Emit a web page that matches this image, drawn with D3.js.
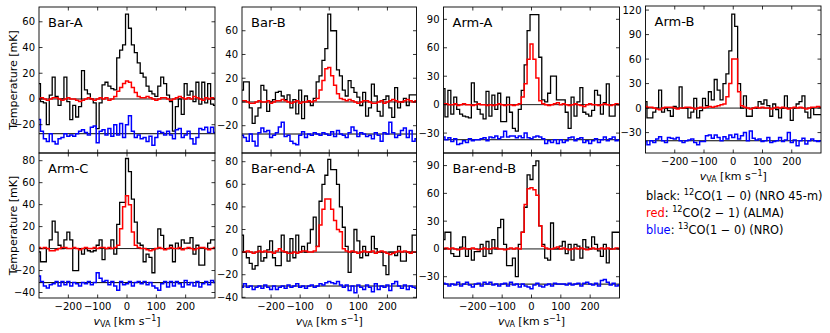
<!DOCTYPE html>
<html><head><meta charset="utf-8">
<script src="https://cdn.jsdelivr.net/npm/d3@7"></script>
<style>body{margin:0;background:#fff}svg{display:block}text{font-family:"DejaVu Sans",sans-serif;fill:#000}</style>
</head><body><svg id="c" width="830" height="333"></svg>
<script>
// channel centres (km/s)
const velocity = [-300,-290,-280,-270,-260,-250,-240,-230,-220,-210,-200,-190,-180,-170,-160,-150,-140,-130,-120,-110,-100,-90,-80,-70,-60,-50,-40,-30,-20,-10,0,10,20,30,40,50,60,70,80,90,100,110,120,130,140,150,160,170,180,190,200,210,220,230,240,250,260,270,280,290,300];
const panelNames = ["Bar-A","Bar-B","Arm-A","Arm-B","Arm-C","Bar-end-A","Bar-end-B"];

// black: 12CO(1-0) NRO 45-m [mK]
const barA_co10 = [12,-2,-3,-20,3,17,2,-5,0,17,-2,-16,-5,-14,-6,22,7,4,0,-3,-23,-3,11,13,10,8,7,32,38,42,66,55,42,36,28,20,17,10,6,4,2,10,17,12,3,-2,-25,-6,0,-12,12,3,6,-2,13,-4,13,-3,12,-4,-5];
const barB_co10 = [10,17,17,-5,-18,-12,-5,14,10,-8,0,2,8,9,5,2,6,-5,2,-10,10,-14,5,0,-3,3,17,22,35,45,74,60,60,27,22,10,5,18,12,8,4,-3,8,-12,-5,15,5,-8,-12,2,5,-5,-13,12,-5,0,3,-3,6,6,6];
const armA_co10 = [17,-13,15,-10,8,-5,-10,-12,-13,-14,23,3,-5,-10,-15,14,-12,10,-5,12,-18,-18,8,-8,-25,-28,-5,15,42,78,95,95,95,50,5,3,12,30,30,5,5,5,-8,-25,8,-12,3,18,-8,-10,-12,-6,15,10,-10,2,22,-12,-12,0,0];
const armB_co10 = [8,-12,-12,-5,0,22,-5,0,-3,-10,2,0,26,0,0,-12,-5,12,-12,-3,12,3,20,10,35,22,10,30,42,70,115,100,30,0,15,-10,-10,0,0,8,5,10,3,-10,5,-2,-12,0,15,0,-15,0,5,8,15,-5,-12,0,-8,-8,-8];
const armC_co10 = [-3,-12,-12,0,8,25,15,3,0,8,15,8,-20,-20,0,-5,0,-2,-3,-2,3,8,-10,0,0,8,-5,22,42,42,82,70,45,24,5,3,-12,-5,-8,-22,0,18,12,0,0,3,-12,5,0,8,5,5,10,-5,3,-15,-15,0,5,8,8];
const barEndA_co10 = [15,0,-5,-10,-15,-12,5,-8,-5,2,10,-5,-12,-12,15,0,-8,12,-5,15,0,5,0,8,20,31,5,45,60,68,82,73,73,60,40,22,5,-18,0,20,10,-5,5,-3,0,14,3,0,0,-12,-20,0,0,-3,5,-8,-8,0,0,15,15];
const barEndB_co10 = [10,18,18,-5,-8,-8,2,13,-8,0,-12,-3,-3,5,-8,8,-5,10,0,23,32,5,-18,-18,-10,-30,5,18,45,80,75,90,95,25,5,-10,-12,28,0,0,3,8,-5,5,-12,5,3,-10,10,2,0,13,5,-2,-8,5,-15,0,18,18,18];

// red: 12CO(2-1) ALMA [mK]
const barA_co21 = [0,1,0,-1,0,1,1,0,-1,0,1,0,0,-1,-2,-1,0,1,0,-1,0,1,0,1,-1,0,2,6,9,12,14,13,9,5,2,1,1,2,1,0,-1,0,1,1,0,-1,0,1,2,1,0,1,0,2,1,0,-1,1,0,1,0];
const barB_co21 = [1,1,0,-1,-1,0,1,0,0,1,-1,0,1,1,2,1,0,-1,0,1,-1,0,0,1,0,1,3,10,18,28,29,22,14,7,3,2,1,2,1,0,-1,0,1,1,0,-1,-1,0,1,-1,0,1,2,1,0,0,1,2,1,0,1];
const armA_co21 = [1,1,0,0,1,-1,0,1,0,0,-1,0,1,0,0,-1,0,-1,0,1,0,-1,0,0,-1,0,1,8,22,48,64,48,28,4,1,0,-1,0,1,2,0,1,0,-1,0,1,0,-1,-2,0,1,0,0,-1,0,1,0,-1,0,1,0];
const armB_co21 = [2,1,1,0,-1,-2,0,1,1,1,0,-1,0,0,1,1,0,-1,0,1,0,1,2,1,2,3,4,5,14,30,60,60,20,3,1,0,-1,0,1,0,1,0,0,-1,0,1,0,1,0,-1,0,1,0,1,0,-1,0,1,1,2,1];
const armC_co21 = [1,0,1,0,-2,-2,-1,0,1,1,0,0,1,0,-1,0,1,0,0,1,0,1,1,0,1,0,1,3,18,38,48,40,15,3,1,0,0,-1,-2,-1,0,1,0,-1,0,1,0,0,1,-1,0,1,0,-1,0,1,1,0,-1,0,1];
const barEndA_co21 = [0,0,1,0,-1,0,1,0,1,0,0,-1,1,3,1,0,-1,-1,0,-1,0,1,1,0,0,1,5,24,38,47,47,38,28,20,18,3,1,0,1,0,-1,0,1,0,0,1,-1,0,1,0,-1,-2,-1,0,1,0,1,0,-1,0,0];
const barEndB_co21 = [0,1,0,1,0,-1,0,1,0,0,1,0,-1,0,1,0,0,1,1,0,0,-1,0,1,0,1,0,18,48,65,66,64,58,25,3,1,0,0,1,2,0,1,0,-1,0,1,0,1,0,-1,0,1,0,0,1,0,1,0,0,1,0];

// blue: 13CO(1-0) NRO, plotted with offset [mK]
const barA_13co = [-16,-25,-31,-33,-27,-33,-35,-31,-30,-27,-29,-28,-29,-27,-25,-24,-26,-28,-22,-21,-34,-25,-24,-28,-23,-29,-20,-28,-19,-30,-20,-13,-25,-30,-28,-31,-30,-33,-29,-36,-30,-25,-26,-28,-25,-28,-31,-24,-23,-30,-28,-25,-31,-35,-30,-23,-24,-22,-26,-22,-26];
const barB_13co = [-28,-30,-33,-27,-33,-37,-26,-22,-25,-24,-30,-28,-26,-21,-17,-29,-28,-33,-35,-36,-28,-25,-30,-27,-28,-26,-27,-28,-26,-27,-28,-25,-29,-24,-27,-28,-30,-26,-21,-24,-29,-26,-27,-29,-28,-31,-26,-28,-33,-26,-27,-17,-26,-30,-28,-24,-22,-30,-24,-33,-31];
const armA_13co = [-34,-37,-35,-39,-36,-42,-41,-38,-40,-36,-38,-37,-37,-36,-35,-38,-34,-35,-33,-36,-34,-28,-34,-33,-33,-35,-33,-35,-30,-35,-36,-34,-33,-34,-36,-41,-38,-40,-37,-41,-37,-40,-38,-35,-34,-38,-36,-35,-40,-38,-41,-38,-36,-40,-37,-34,-38,-36,-34,-38,-37];
const armB_13co = [-41,-45,-40,-42,-38,-35,-40,-42,-36,-37,-38,-36,-40,-42,-40,-39,-38,-42,-45,-41,-41,-34,-33,-37,-33,-36,-40,-35,-38,-33,-36,-32,-38,-34,-30,-40,-28,-37,-39,-38,-41,-40,-36,-42,-41,-40,-36,-41,-39,-30,-42,-39,-46,-40,-37,-44,-40,-38,-40,-41,-40];
const armC_13co = [-25,-30,-34,-36,-33,-32,-30,-34,-30,-33,-30,-34,-31,-32,-34,-31,-32,-30,-33,-31,-22,-27,-30,-29,-33,-30,-34,-38,-30,-33,-32,-30,-34,-31,-30,-32,-30,-33,-31,-34,-36,-38,-32,-30,-35,-30,-34,-30,-32,-35,-29,-33,-31,-34,-30,-35,-32,-30,-33,-29,-31];
const barEndA_13co = [-31,-28,-31,-30,-33,-31,-30,-32,-29,-31,-33,-30,-33,-31,-30,-32,-29,-31,-30,-28,-31,-30,-32,-30,-29,-31,-30,-28,-29,-27,-26,-27,-28,-26,-29,-31,-29,-34,-30,-36,-29,-31,-33,-29,-31,-35,-28,-33,-30,-31,-29,-34,-28,-26,-30,-32,-29,-33,-30,-31,-32];
const barEndB_13co = [-37,-38,-40,-38,-39,-36,-40,-38,-36,-39,-41,-38,-37,-40,-36,-38,-36,-39,-38,-40,-38,-37,-40,-36,-39,-38,-41,-38,-40,-41,-43,-39,-37,-40,-41,-39,-38,-40,-37,-38,-38,-38,-39,-37,-39,-38,-37,-40,-37,-36,-38,-39,-37,-40,-34,-33,-36,-39,-37,-40,-39];

const offset13co = [-27,-27,-37,-40,-31,-30,-38];
const yTicks = [[-20,0,20,40,60],[-20,0,20,40,60],[-30,0,30,60,90],[-30,0,30,60,90,120],[-40,-20,0,20,40,60,80],[-40,-20,0,20,40,60,80],[-30,0,30,60,90]];
const yDomains = [[-42,71.5],[-43,80],[-51,103],[-55,125],[-45,87],[-40.6,87.7],[-53,103.6]];
const xTicks = [-200,-100,0,100,200];
const xDomain = [-300,300];

const co10 = [barA_co10,barB_co10,armA_co10,armB_co10,armC_co10,barEndA_co10,barEndB_co10];
const co21 = [barA_co21,barB_co21,armA_co21,armB_co21,armC_co21,barEndA_co21,barEndB_co21];
const co13 = [barA_13co,barB_13co,armA_13co,armB_13co,armC_13co,barEndA_13co,barEndB_13co];

// layout
const cols = [[39,215],[242,416.5],[443.5,619.5],[645.5,821]];
const boxes = [
  {c:0, t:7, b:153, xl:false}, {c:1, t:7, b:153, xl:false}, {c:2, t:7, b:153, xl:false}, {c:3, t:6, b:153, xl:true},
  {c:0, t:153, b:298, xl:true}, {c:1, t:153, b:298, xl:true}, {c:2, t:153, b:298, xl:true}
];

const svg = d3.select("#c");
const fmt = d3.format("");
const TL = 3.5;

panelNames.forEach((name, i) => {
  const bx = boxes[i];
  const L = cols[bx.c][0], R = cols[bx.c][1];
  const x = d3.scaleLinear().domain(xDomain).range([L, R]);
  const y = d3.scaleLinear().domain(yDomains[i]).range([bx.b, bx.t]);
  const g = svg.append("g");
  const cid = "clip" + i;
  g.append("clipPath").attr("id", cid).append("rect")
    .attr("x", L).attr("y", bx.t).attr("width", R - L).attr("height", bx.b - bx.t);
  const pg = g.append("g").attr("clip-path", `url(#${cid})`);

  // reference lines
  pg.append("line").attr("x1", x(-300)).attr("x2", x(300)).attr("y1", y(0)).attr("y2", y(0))
    .attr("stroke", "#000").attr("stroke-width", 0.9);
  pg.append("line").attr("x1", x(-300)).attr("x2", x(300)).attr("y1", y(offset13co[i])).attr("y2", y(offset13co[i]))
    .attr("stroke", "#000").attr("stroke-width", 1);

  const line = d3.line().x((d, k) => x(velocity[k])).y(d => y(d)).curve(d3.curveStep);
  pg.append("path").attr("d", line(co10[i])).attr("fill", "none").attr("stroke", "#000").attr("stroke-width", 1.3);
  pg.append("path").attr("d", line(co21[i])).attr("fill", "none").attr("stroke", "#ff0000").attr("stroke-width", 1.5);
  pg.append("path").attr("d", line(co13[i])).attr("fill", "none").attr("stroke", "#0000ff").attr("stroke-width", 1.5);

  // ticks
  const tk = g.append("g").attr("stroke", "#000").attr("stroke-width", 0.8);
  yTicks[i].forEach(v => {
    tk.append("line").attr("x1", L).attr("x2", L + TL).attr("y1", y(v)).attr("y2", y(v));
    tk.append("line").attr("x1", R).attr("x2", R - TL).attr("y1", y(v)).attr("y2", y(v));
    g.append("text").attr("x", L - 4).attr("y", y(v)).attr("text-anchor", "end")
      .attr("dominant-baseline", "central").attr("font-size", 10).text(fmt(v));
  });
  xTicks.forEach(v => {
    tk.append("line").attr("x1", x(v)).attr("x2", x(v)).attr("y1", bx.b).attr("y2", bx.b - TL);
    tk.append("line").attr("x1", x(v)).attr("x2", x(v)).attr("y1", bx.t).attr("y2", bx.t + TL);
    if (bx.xl) {
      g.append("text").attr("x", x(v)).attr("y", bx.b + 12).attr("text-anchor", "middle")
        .attr("font-size", 10).text(fmt(v));
    }
  });
  if (bx.xl) {
    const t = g.append("text").attr("x", (L + R) / 2).attr("y", bx.b + 27).attr("text-anchor", "middle").attr("font-size", 11);
    t.append("tspan").attr("font-style", "italic").text("v");
    t.append("tspan").attr("font-size", 8).attr("dy", 2).text("VA");
    t.append("tspan").attr("dy", -2).text(" [km s");
    t.append("tspan").attr("font-size", 8).attr("dy", -4).text("−1");
    t.append("tspan").attr("dy", 4).text("]");
  }
  // frame
  g.append("rect").attr("x", L).attr("y", bx.t).attr("width", R - L).attr("height", bx.b - bx.t)
    .attr("fill", "none").attr("stroke", "#000").attr("stroke-width", 0.9);
  // panel name
  g.append("text").attr("x", L + 9).attr("y", bx.t + 20).attr("font-size", 13).text(name);
});

// y-axis titles
[[80],[225.5]].forEach(([cy]) => {
  svg.append("text").attr("transform", `translate(13,${cy}) rotate(-90)`).attr("text-anchor", "middle")
    .attr("dominant-baseline", "central").attr("font-size", 11).text("Temperature [mK]");
});

// legend
const legendColors = ["#000", "#ff0000", "#0000ff"];
const legendKeys = ["black", "red", "blue"];
const legendIso = ["12", "12", "13"];
const legendLine = ["CO(1 − 0) (NRO 45-m)", "CO(2 − 1) (ALMA)", "CO(1 − 0) (NRO)"];
legendKeys.forEach((k, j) => {
  const t = svg.append("text").attr("x", 646).attr("y", 199.5 + j * 17).attr("font-size", 11.4);
  t.append("tspan").style("fill", legendColors[j]).text(k);
  t.append("tspan").text(": ");
  t.append("tspan").attr("font-size", 8.2).attr("dy", -4.5).text(legendIso[j]);
  t.append("tspan").attr("dy", 4.5).text(legendLine[j]);
});
</script></body></html>
